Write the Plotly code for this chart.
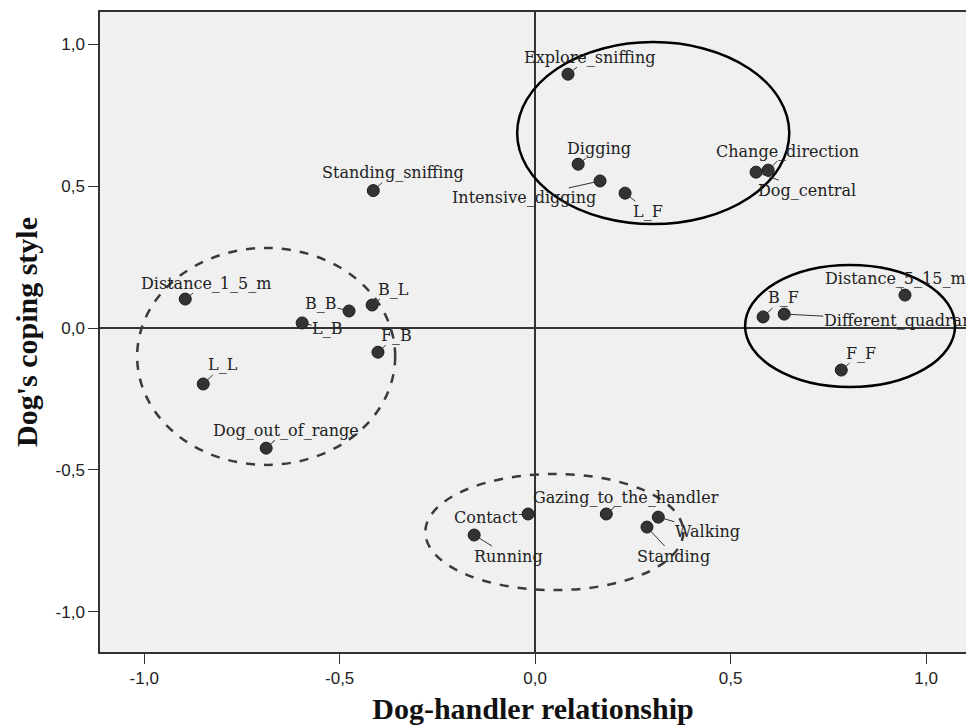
import plotly.graph_objects as go

# Category coordinates on the two dimensions
labels = [
    "Explore_sniffing", "Digging", "Intensive_digging", "L_F",
    "Change_direction", "Dog_central", "Standing_sniffing",
    "Distance_1_5_m", "B_B", "B_L", "L_B", "F_B", "L_L", "Dog_out_of_range",
    "B_F", "Different_quadrant", "Distance_5_15_m", "F_F",
    "Contact", "Running", "Gazing_to_the_handler", "Standing", "Walking",
]
relationship = [
    0.084, 0.110, 0.166, 0.230,
    0.596, 0.565, -0.414,
    -0.895, -0.476, -0.417, -0.596, -0.402, -0.849, -0.688,
    0.583, 0.637, 0.946, 0.783,
    -0.018, -0.156, 0.182, 0.286, 0.315,
]
coping = [
    0.894, 0.577, 0.518, 0.475,
    0.556, 0.549, 0.484,
    0.102, 0.060, 0.081, 0.018, -0.085, -0.197, -0.423,
    0.039, 0.049, 0.116, -0.148,
    -0.655, -0.729, -0.655, -0.701, -0.666,
]

tick_vals = [-1.0, -0.5, 0.0, 0.5, 1.0]
tick_text = ["-1,0", "-0,5", "0,0", "0,5", "1,0"]

# Label placement (pixel offsets of the text centre from its point)
label_offsets = {
    "Explore_sniffing": (22, -17), "Digging": (21, -16),
    "Intensive_digging": (-76, 17), "L_F": (23, 18),
    "Change_direction": (19, -19), "Dog_central": (51, 18),
    "Standing_sniffing": (20, -18), "Distance_1_5_m": (21, -16),
    "B_B": (-28, -7), "B_L": (21, -16), "L_B": (25, 6), "F_B": (19, -17),
    "L_L": (20, -19), "Dog_out_of_range": (20, -18), "B_F": (20, -19),
    "Different_quadrant": (117, 6), "Distance_5_15_m": (-10, -17),
    "F_F": (20, -17), "Contact": (-42, 3), "Running": (34, 21),
    "Gazing_to_the_handler": (20, -17), "Standing": (27, 29),
    "Walking": (49, 14),
}

# Grouping ellipses: (x0, x1, y0, y1, dashed)
groups = [
    (-0.046, 0.650, 0.366, 1.007, False),
    (-1.018, -0.358, -0.482, 0.282, True),
    (0.537, 1.074, -0.208, 0.222, False),
    (-0.281, 0.379, -0.923, -0.514, True),
]

fig = go.Figure()
fig.add_trace(go.Scatter(
    x=relationship, y=coping, mode="markers",
    marker=dict(size=12, color="#333333", line=dict(color="#1a1a1a", width=1)),
    hovertext=labels, hoverinfo="text", showlegend=False,
))

for name, px, py in zip(labels, relationship, coping):
    dx, dy = label_offsets[name]
    fig.add_annotation(
        x=px, y=py, text=name, showarrow=True, arrowhead=0,
        arrowwidth=1, arrowcolor="#333333", ax=dx, ay=dy, standoff=5,
        font=dict(family="DejaVu Serif", size=16, color="#222222"),
        borderpad=0,
    )

for x0, x1, y0, y1, dashed in groups:
    fig.add_shape(
        type="circle", xref="x", yref="y", x0=x0, x1=x1, y0=y0, y1=y1,
        line=dict(color="#3a3a3a" if dashed else "#000000", width=2.5,
                  dash="dash" if dashed else "solid"),
        layer="above",
    )

tick_font = dict(family="Liberation Sans", size=17, color="#222222")
title_font = dict(family="Liberation Serif", size=30, color="#111111")

fig.update_layout(
    width=966, height=725,
    margin=dict(l=100, r=0, t=12, b=73),
    paper_bgcolor="white", plot_bgcolor="#f0f0f0",
    xaxis=dict(
        range=[-1.113, 1.102], tickvals=tick_vals, ticktext=tick_text,
        showgrid=False, zeroline=True, zerolinecolor="#333333", zerolinewidth=1.5,
        showline=True, linecolor="#333333", linewidth=1.5, mirror=True,
        ticks="outside", ticklen=10, tickcolor="#333333", tickfont=tick_font,
        title=dict(text="<b>Dog-handler relationship</b>", standoff=11,
                   font=title_font),
    ),
    yaxis=dict(
        range=[-1.141, 1.113], tickvals=tick_vals, ticktext=tick_text,
        showgrid=False, zeroline=True, zerolinecolor="#333333", zerolinewidth=1.5,
        showline=True, linecolor="#333333", linewidth=1.5, mirror=False,
        ticks="outside", ticklen=10, tickcolor="#333333", tickfont=tick_font,
        title=dict(text="<b>Dog's coping style</b>", standoff=9,
                   font=title_font),
    ),
)

fig.write_html("out.html")
